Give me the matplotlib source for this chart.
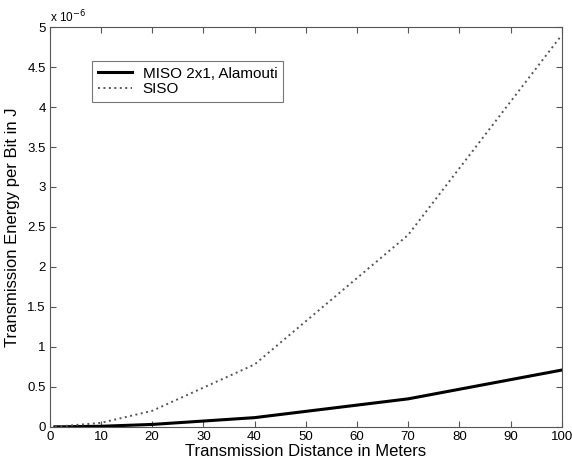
import matplotlib.pyplot as plt
import numpy as np

plt.rcParams['font.family'] = ['Liberation Sans', 'DejaVu Sans']

# distance in meters
distance = [1, 10, 20, 40, 70, 100]
# energy per bit, in units of 1e-6 J
miso = [0.0001, 0.007, 0.03, 0.115, 0.35, 0.71]
siso = [0.0005, 0.05, 0.2, 0.78, 2.4, 4.9]

fig = plt.figure(figsize=(5.72, 4.67), dpi=100)
ax = fig.add_axes([0.087, 0.086, 0.895, 0.856])

ax.plot(distance, miso, color='black', linewidth=2.2, label='MISO 2x1, Alamouti')
ax.plot(distance, siso, color='#555555', linewidth=1.4, linestyle=(0, (1, 1.8)), label='SISO')

ax.set_xlim(0, 100)
ax.set_ylim(0, 5)
ax.set_xticks(np.arange(0, 101, 10))
ax.set_yticks(np.arange(0, 5.01, 0.5))
ax.set_yticklabels(['0', '0.5', '1', '1.5', '2', '2.5', '3', '3.5', '4', '4.5', '5'])
ax.tick_params(direction='in', top=True, right=True, labelsize=9.5, length=4, color='#555555', pad=3)
for s in ax.spines.values():
    s.set_color('#555555')
    s.set_linewidth(0.8)

ax.text(0.0, 1.005, r'x 10$^{-6}$', transform=ax.transAxes, fontsize=8.5, va='bottom', ha='left')

ax.set_xlabel('Transmission Distance in Meters', fontsize=12, labelpad=1)
ax.set_ylabel('Transmission Energy per Bit in J', fontsize=12, labelpad=5)

leg = ax.legend(loc='upper left', bbox_to_anchor=(0.068, 0.935), fontsize=11, frameon=True,
                fancybox=False, edgecolor='#555555', handlelength=2.2, borderpad=0.4,
                labelspacing=0.1, handletextpad=0.7)
leg.get_frame().set_linewidth(0.8)

fig.savefig('out.png')
